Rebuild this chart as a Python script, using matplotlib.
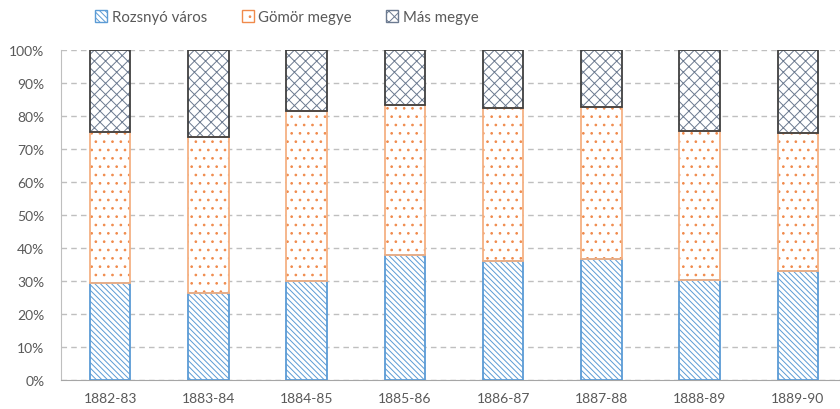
import numpy as np
import matplotlib.pyplot as plt
from matplotlib.ticker import PercentFormatter
from matplotlib.patches import Patch

plt.rcParams['font.family'] = ['Lato', 'DejaVu Sans']
plt.rcParams['hatch.linewidth'] = 0.7

years = ['1882-83', '1883-84', '1884-85', '1885-86', '1886-87', '1887-88', '1888-89', '1889-90']
rozsnyo = [29.4, 26.4, 30.0, 37.8, 36.2, 36.6, 30.4, 33.1]
gomor = [45.8, 47.1, 51.4, 45.6, 46.3, 46.2, 45.1, 41.6]
mas = [24.8, 26.5, 18.6, 16.6, 17.5, 17.2, 24.5, 25.3]

fig = plt.figure(figsize=(8.4, 4.1), dpi=100)
ax = fig.add_axes([61/840, 29/410, 786/840, 330/410])

x = np.arange(len(years))
w = 0.41
rozsnyo = np.array(rozsnyo) / 100
gomor = np.array(gomor) / 100
mas = np.array(mas) / 100

# hatch fill first (no outline), then outline on top
series = [
    (rozsnyo, 0, '#5B9BD5', '#5B9BD5', '\\\\\\\\\\\\', 'Rozsnyó város'),
    (gomor, rozsnyo, '#F4B183', '#F08A4B', '..', 'Gömör megye'),
    (mas, rozsnyo + gomor, '#404040', '#6B7A90', 'xxx', 'Más megye'),
]
handles = []
for vals, bot, edge, hcol, hatch, lab in series:
    ax.bar(x, vals, w, bottom=bot, color='white', edgecolor=hcol, hatch=hatch, lw=0, zorder=3)
    ax.bar(x, vals, w, bottom=bot, fill=False, edgecolor=edge, lw=1.3, zorder=4)
    handles.append(Patch(facecolor='white', edgecolor=hcol, hatch=hatch, label=lab))

ax.set_xlim(-0.5, len(years) - 0.5)
ax.set_ylim(0, 1)
ax.set_yticks(np.arange(0, 1.01, 0.1))
ax.yaxis.set_major_formatter(PercentFormatter(1.0, decimals=0))
ax.set_xticks(x)
ax.set_xticklabels(years)
ax.tick_params(axis='both', length=0, labelsize=10, labelcolor='#595959')
ax.tick_params(axis='x', pad=9)
ax.tick_params(axis='y', pad=12)

ax.grid(axis='y', color='#BFBFBF', ls=(0, (4, 3)), lw=1, zorder=0)
for s in ['top', 'right']:
    ax.spines[s].set_visible(False)
ax.spines['left'].set_color('#BFBFBF')
ax.spines['bottom'].set_color('#A6A6A6')

fig.legend(handles=handles, loc='center', bbox_to_anchor=(287/840, 1 - 18/410), ncol=3,
           frameon=False, fontsize=10.8, labelcolor='#595959', handlelength=0.8,
           handleheight=0.8, columnspacing=2.3, handletextpad=0.3)

fig.savefig('out.png', dpi=100)
